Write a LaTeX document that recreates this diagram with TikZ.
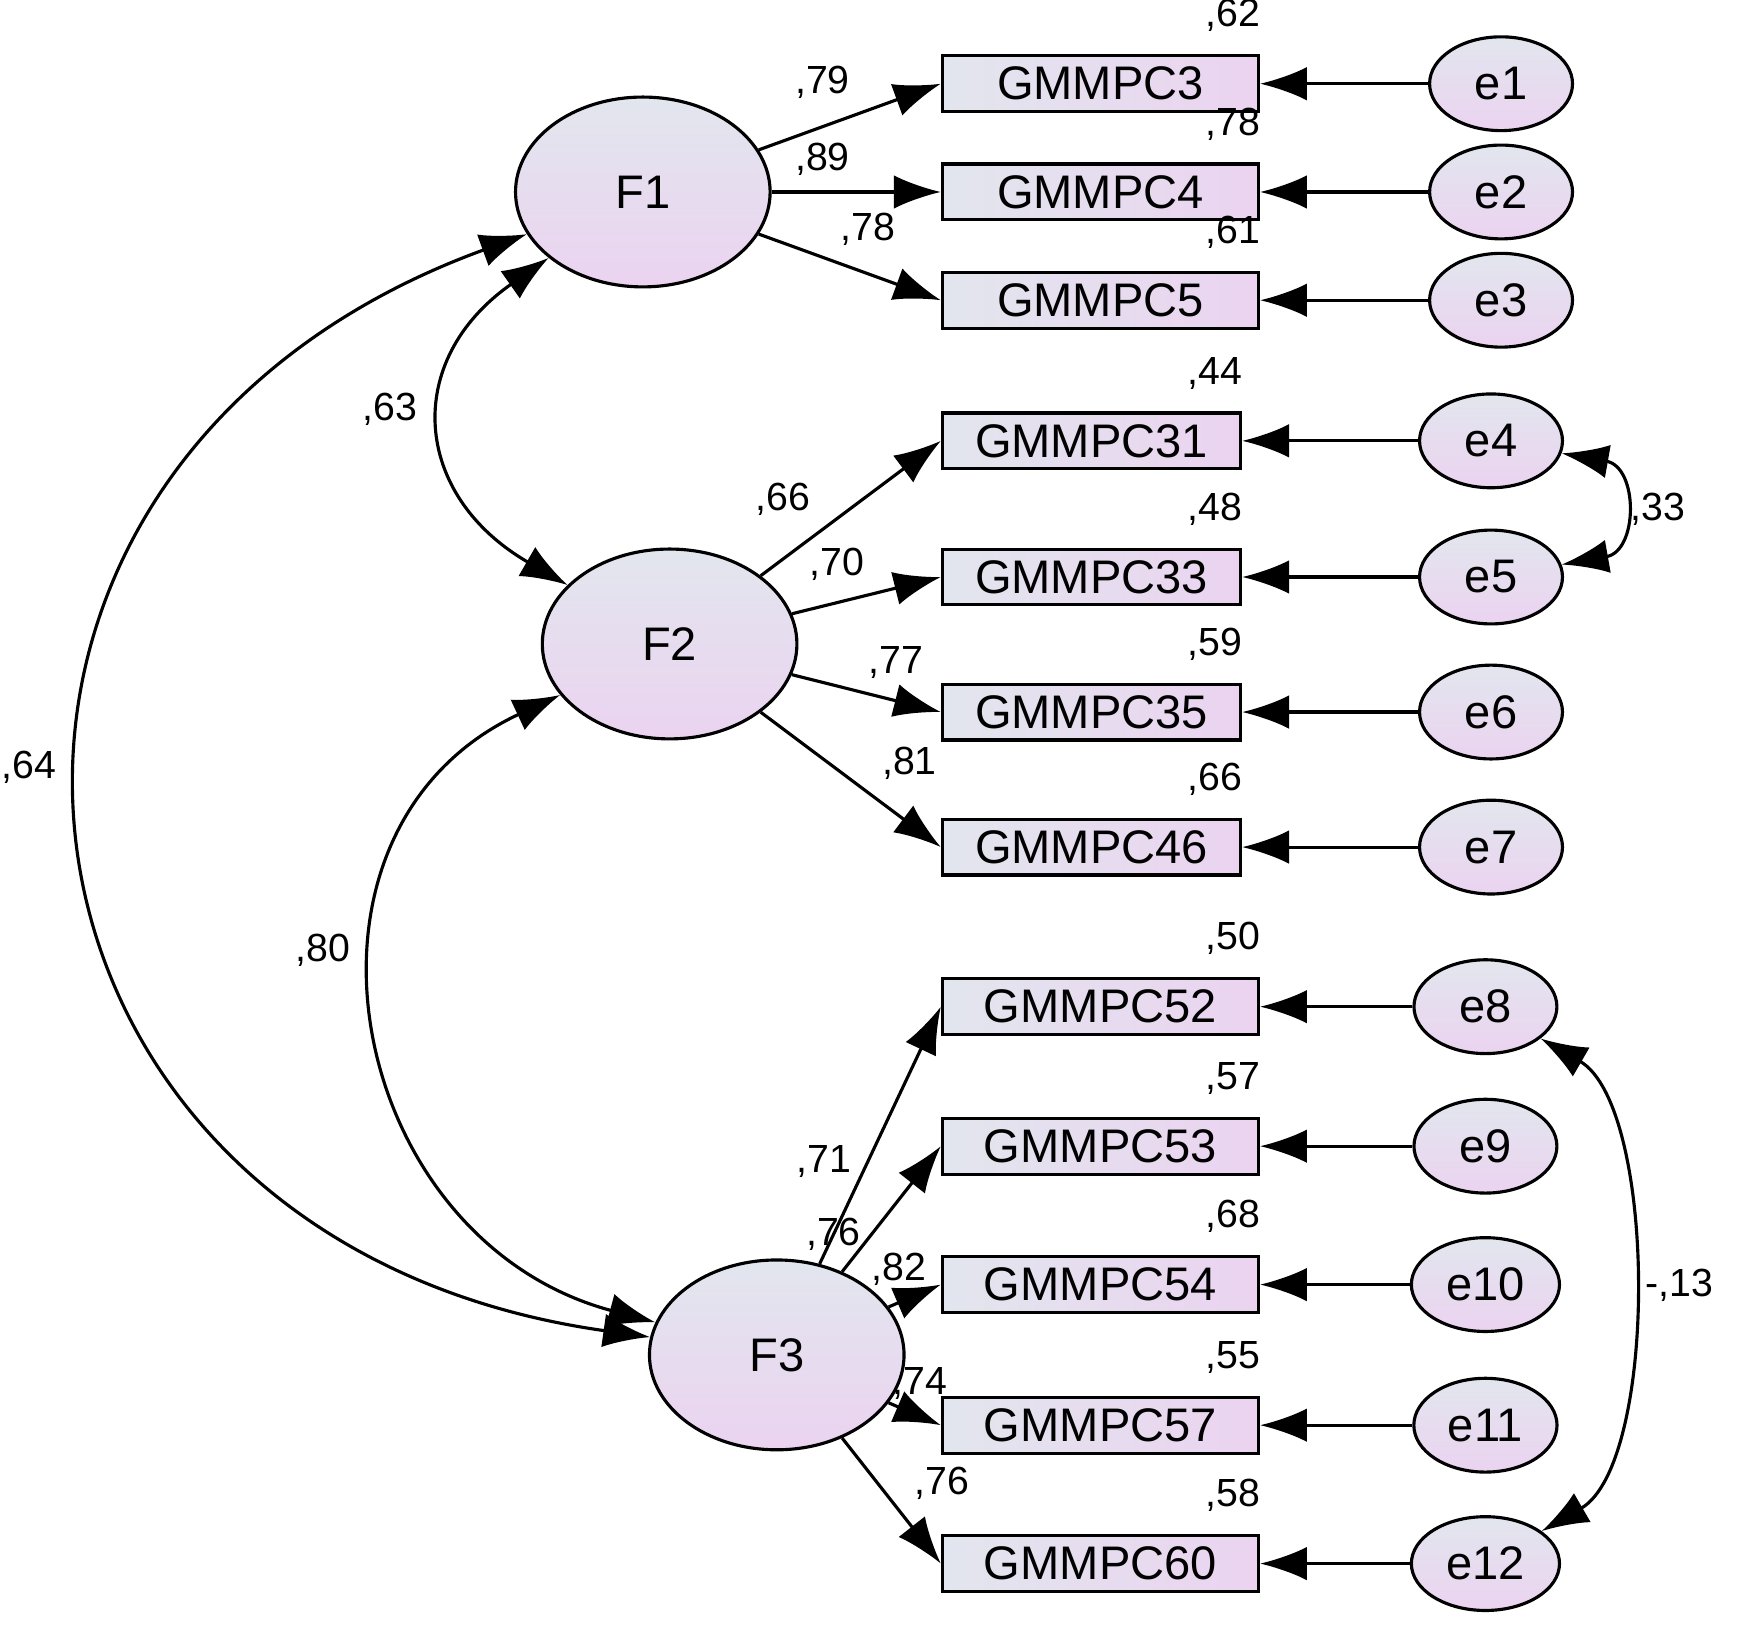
\documentclass[tikz,border=0pt]{standalone}
\usepackage{fontspec}
\setmainfont{Liberation Sans}
\usetikzlibrary{positioning,shapes,arrows.meta}

\definecolor{grayblue}{HTML}{E2E6EE}
\definecolor{lilac}{HTML}{EBD3F0}

\begin{document}
\begin{tikzpicture}[x=0.01cm, y=-0.01cm, >={Latex[length=4.2mm,width=3mm]}, thick,
    lat/.style={draw, ellipse, minimum width=2.28cm, minimum height=1.7cm, top color=grayblue, bottom color=lilac, font=\fontsize{12}{14}\selectfont},
    obs/.style={draw, rectangle, minimum height=0.5cm, inner ysep=0.5mm, left color=grayblue, right color=lilac, font=\fontsize{12}{14}\selectfont},
    err/.style={draw, ellipse, minimum width=1.28cm, minimum height=0.84cm, top color=grayblue, bottom color=lilac, font=\fontsize{12}{14}\selectfont},
    lbl/.style={font=\fontsize{10}{12}\selectfont, inner sep=1pt}]
    \useasboundingbox (0,0) rectangle (1560,1456);

    % latent factors
    \node[lat] (F1) at (576,172) {F1};
    \node[lat] (F2) at (600,577) {F2};
    \node[lat] (F3) at (696,1214) {F3};

    % indicators, error terms and R^2 values
    \foreach \i/\n/\x/\y/\ex/\r/\w in {1/3/986/75/1345/62/2.83, 2/4/986/172/1345/78/2.83, 3/5/986/269/1345/61/2.83,
        4/31/978/395/1336/44/2.67, 5/33/978/517/1336/48/2.67, 6/35/978/638/1336/59/2.67, 7/46/978/759/1336/66/2.67,
        8/52/986/902/1331/50/2.83, 9/53/986/1027/1331/57/2.83, 10/54/986/1151/1331/68/2.83, 11/57/986/1277/1331/55/2.83, 12/60/986/1401/1331/58/2.83} {
        \node[obs, minimum width=\w cm] (c\n) at (\x,\y) {GMMPC\n};
        \node[lbl, anchor=south east] at ([xshift=0.5mm,yshift=1.5mm]c\n.north east) {,\r};
        \node[err] (e\i) at (\ex,\y) {e\i};
        \draw[->] (e\i) -- (c\n);
    }

    % loadings
    \draw[->] (F1) -- (c3.west) node[lbl, pos=0.35, above=2mm] {,79};
    \draw[->] (F1) -- (c4.west) node[lbl, pos=0.3, above=1mm] {,89};
    \draw[->] (F1) -- (c5.west) node[lbl, pos=0.6, above=2mm] {,78};
    \draw[->] (F2) -- (c31.west) node[lbl, pos=0.35, above left=1mm] {,66};
    \draw[->] (F2) -- (c33.west) node[lbl, pos=0.3, above=1.5mm] {,70};
    \draw[->] (F2) -- (c35.west) node[lbl, pos=0.7, above=1.5mm] {,77};
    \draw[->] (F2) -- (c46.west) node[lbl, pos=0.6, above right=1mm] {,81};
    \draw[->] (F3) -- (c52.west) node[lbl, pos=0.4, left=1mm] {,71};
    \draw[->] (F3) -- (c53.west) node[lbl, pos=0.3, left=0.5mm] {,76};
    \draw[->] (F3) -- (c54.west) node[lbl, pos=0.2, above=1mm] {,82};
    \draw[->] (F3) -- (c57.west) node[lbl, pos=0.6, above=1mm] {,74};
    \draw[->] (F3) -- (c60.west) node[lbl, pos=0.6, above right=1mm] {,76};

    % covariances
    \draw[<->] (F1) to[out=215, in=150, looseness=1.4] node[lbl, pos=0.45, left=2mm] {,63} (F2);
    \draw[<->] (F2) to[out=205, in=165, looseness=1.3] node[lbl, pos=0.4, left=2mm] {,80} (F3);
    \draw[<->] (F1) to[out=200, in=172, looseness=1.6] node[lbl, pos=0.45, left=2mm] {,64} (F3);
    \draw[<->] (e4) to[out=-10, in=10, looseness=1.8] node[lbl, right=0.5mm] {,33} (e5);
    \draw[<->] (e8) to[out=-30, in=30, looseness=0.7] node[lbl, right=1mm] {-,13} (e12);
    \end{tikzpicture}
\end{document}
